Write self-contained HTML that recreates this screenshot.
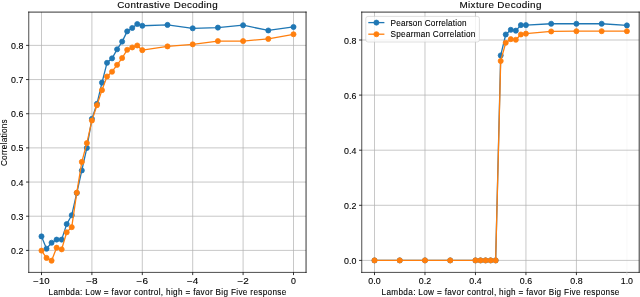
<!DOCTYPE html>
<html><head><meta charset="utf-8"><title>Contrastive vs Mixture Decoding</title>
<style>html,body{margin:0;padding:0;background:#fff;width:640px;height:297px;overflow:hidden}
text{font-family:"Liberation Sans",sans-serif;stroke:#000;stroke-width:0.1px;paint-order:stroke} text.t{stroke-width:0.12px}</style></head>
<body>
<svg width="640" height="297" viewBox="0 0 640 297" style="display:block;will-change:transform">
<rect width="640" height="297" fill="#fff"/>
<g font-family="Liberation Sans, sans-serif" fill="#000">
<line x1="41.50" y1="12.10" x2="41.50" y2="272.40" stroke="#b0b0b0" stroke-width="0.7"/>
<line x1="91.90" y1="12.10" x2="91.90" y2="272.40" stroke="#b0b0b0" stroke-width="0.7"/>
<line x1="142.30" y1="12.10" x2="142.30" y2="272.40" stroke="#b0b0b0" stroke-width="0.7"/>
<line x1="192.70" y1="12.10" x2="192.70" y2="272.40" stroke="#b0b0b0" stroke-width="0.7"/>
<line x1="243.10" y1="12.10" x2="243.10" y2="272.40" stroke="#b0b0b0" stroke-width="0.7"/>
<line x1="293.50" y1="12.10" x2="293.50" y2="272.40" stroke="#b0b0b0" stroke-width="0.7"/>
<line x1="28.75" y1="250.40" x2="306.05" y2="250.40" stroke="#b0b0b0" stroke-width="0.7"/>
<line x1="28.75" y1="216.23" x2="306.05" y2="216.23" stroke="#b0b0b0" stroke-width="0.7"/>
<line x1="28.75" y1="182.06" x2="306.05" y2="182.06" stroke="#b0b0b0" stroke-width="0.7"/>
<line x1="28.75" y1="147.89" x2="306.05" y2="147.89" stroke="#b0b0b0" stroke-width="0.7"/>
<line x1="28.75" y1="113.72" x2="306.05" y2="113.72" stroke="#b0b0b0" stroke-width="0.7"/>
<line x1="28.75" y1="79.55" x2="306.05" y2="79.55" stroke="#b0b0b0" stroke-width="0.7"/>
<line x1="28.75" y1="45.38" x2="306.05" y2="45.38" stroke="#b0b0b0" stroke-width="0.7"/>
<g>
<polyline points="41.50,236.39 46.54,248.69 51.58,242.71 56.62,239.60 61.66,239.60 66.70,224.09 71.74,215.20 76.78,192.99 81.82,170.44 86.86,147.89 91.90,118.85 96.94,103.81 101.98,82.63 107.02,62.81 112.06,58.36 117.10,49.31 122.14,41.62 127.18,31.37 132.22,27.95 137.26,24.02 142.30,25.73 167.50,24.88 192.70,28.30 217.90,27.61 243.10,25.22 268.30,30.48 293.50,26.93" fill="none" stroke="#1f77b4" stroke-width="1.3" stroke-linejoin="round" stroke-linecap="butt"/>
<circle cx="41.50" cy="236.39" r="2.55" fill="#1f77b4" stroke="#1f77b4" stroke-width="0.77"/>
<circle cx="46.54" cy="248.69" r="2.55" fill="#1f77b4" stroke="#1f77b4" stroke-width="0.77"/>
<circle cx="51.58" cy="242.71" r="2.55" fill="#1f77b4" stroke="#1f77b4" stroke-width="0.77"/>
<circle cx="56.62" cy="239.60" r="2.55" fill="#1f77b4" stroke="#1f77b4" stroke-width="0.77"/>
<circle cx="61.66" cy="239.60" r="2.55" fill="#1f77b4" stroke="#1f77b4" stroke-width="0.77"/>
<circle cx="66.70" cy="224.09" r="2.55" fill="#1f77b4" stroke="#1f77b4" stroke-width="0.77"/>
<circle cx="71.74" cy="215.20" r="2.55" fill="#1f77b4" stroke="#1f77b4" stroke-width="0.77"/>
<circle cx="76.78" cy="192.99" r="2.55" fill="#1f77b4" stroke="#1f77b4" stroke-width="0.77"/>
<circle cx="81.82" cy="170.44" r="2.55" fill="#1f77b4" stroke="#1f77b4" stroke-width="0.77"/>
<circle cx="86.86" cy="147.89" r="2.55" fill="#1f77b4" stroke="#1f77b4" stroke-width="0.77"/>
<circle cx="91.90" cy="118.85" r="2.55" fill="#1f77b4" stroke="#1f77b4" stroke-width="0.77"/>
<circle cx="96.94" cy="103.81" r="2.55" fill="#1f77b4" stroke="#1f77b4" stroke-width="0.77"/>
<circle cx="101.98" cy="82.63" r="2.55" fill="#1f77b4" stroke="#1f77b4" stroke-width="0.77"/>
<circle cx="107.02" cy="62.81" r="2.55" fill="#1f77b4" stroke="#1f77b4" stroke-width="0.77"/>
<circle cx="112.06" cy="58.36" r="2.55" fill="#1f77b4" stroke="#1f77b4" stroke-width="0.77"/>
<circle cx="117.10" cy="49.31" r="2.55" fill="#1f77b4" stroke="#1f77b4" stroke-width="0.77"/>
<circle cx="122.14" cy="41.62" r="2.55" fill="#1f77b4" stroke="#1f77b4" stroke-width="0.77"/>
<circle cx="127.18" cy="31.37" r="2.55" fill="#1f77b4" stroke="#1f77b4" stroke-width="0.77"/>
<circle cx="132.22" cy="27.95" r="2.55" fill="#1f77b4" stroke="#1f77b4" stroke-width="0.77"/>
<circle cx="137.26" cy="24.02" r="2.55" fill="#1f77b4" stroke="#1f77b4" stroke-width="0.77"/>
<circle cx="142.30" cy="25.73" r="2.55" fill="#1f77b4" stroke="#1f77b4" stroke-width="0.77"/>
<circle cx="167.50" cy="24.88" r="2.55" fill="#1f77b4" stroke="#1f77b4" stroke-width="0.77"/>
<circle cx="192.70" cy="28.30" r="2.55" fill="#1f77b4" stroke="#1f77b4" stroke-width="0.77"/>
<circle cx="217.90" cy="27.61" r="2.55" fill="#1f77b4" stroke="#1f77b4" stroke-width="0.77"/>
<circle cx="243.10" cy="25.22" r="2.55" fill="#1f77b4" stroke="#1f77b4" stroke-width="0.77"/>
<circle cx="268.30" cy="30.48" r="2.55" fill="#1f77b4" stroke="#1f77b4" stroke-width="0.77"/>
<circle cx="293.50" cy="26.93" r="2.55" fill="#1f77b4" stroke="#1f77b4" stroke-width="0.77"/>
<polyline points="41.50,250.61 46.54,257.92 51.58,260.65 56.62,247.67 61.66,249.37 66.70,232.29 71.74,227.16 76.78,192.65 81.82,161.90 86.86,143.11 91.90,120.55 96.94,105.18 101.98,90.14 107.02,76.47 112.06,71.69 117.10,64.86 122.14,58.02 127.18,49.82 132.22,47.43 137.26,45.48 142.30,50.16 167.50,46.41 192.70,44.35 217.90,41.07 243.10,41.07 268.30,38.89 293.50,34.27" fill="none" stroke="#ff7f0e" stroke-width="1.3" stroke-linejoin="round" stroke-linecap="butt"/>
<circle cx="41.50" cy="250.61" r="2.55" fill="#ff7f0e" stroke="#ff7f0e" stroke-width="0.77"/>
<circle cx="46.54" cy="257.92" r="2.55" fill="#ff7f0e" stroke="#ff7f0e" stroke-width="0.77"/>
<circle cx="51.58" cy="260.65" r="2.55" fill="#ff7f0e" stroke="#ff7f0e" stroke-width="0.77"/>
<circle cx="56.62" cy="247.67" r="2.55" fill="#ff7f0e" stroke="#ff7f0e" stroke-width="0.77"/>
<circle cx="61.66" cy="249.37" r="2.55" fill="#ff7f0e" stroke="#ff7f0e" stroke-width="0.77"/>
<circle cx="66.70" cy="232.29" r="2.55" fill="#ff7f0e" stroke="#ff7f0e" stroke-width="0.77"/>
<circle cx="71.74" cy="227.16" r="2.55" fill="#ff7f0e" stroke="#ff7f0e" stroke-width="0.77"/>
<circle cx="76.78" cy="192.65" r="2.55" fill="#ff7f0e" stroke="#ff7f0e" stroke-width="0.77"/>
<circle cx="81.82" cy="161.90" r="2.55" fill="#ff7f0e" stroke="#ff7f0e" stroke-width="0.77"/>
<circle cx="86.86" cy="143.11" r="2.55" fill="#ff7f0e" stroke="#ff7f0e" stroke-width="0.77"/>
<circle cx="91.90" cy="120.55" r="2.55" fill="#ff7f0e" stroke="#ff7f0e" stroke-width="0.77"/>
<circle cx="96.94" cy="105.18" r="2.55" fill="#ff7f0e" stroke="#ff7f0e" stroke-width="0.77"/>
<circle cx="101.98" cy="90.14" r="2.55" fill="#ff7f0e" stroke="#ff7f0e" stroke-width="0.77"/>
<circle cx="107.02" cy="76.47" r="2.55" fill="#ff7f0e" stroke="#ff7f0e" stroke-width="0.77"/>
<circle cx="112.06" cy="71.69" r="2.55" fill="#ff7f0e" stroke="#ff7f0e" stroke-width="0.77"/>
<circle cx="117.10" cy="64.86" r="2.55" fill="#ff7f0e" stroke="#ff7f0e" stroke-width="0.77"/>
<circle cx="122.14" cy="58.02" r="2.55" fill="#ff7f0e" stroke="#ff7f0e" stroke-width="0.77"/>
<circle cx="127.18" cy="49.82" r="2.55" fill="#ff7f0e" stroke="#ff7f0e" stroke-width="0.77"/>
<circle cx="132.22" cy="47.43" r="2.55" fill="#ff7f0e" stroke="#ff7f0e" stroke-width="0.77"/>
<circle cx="137.26" cy="45.48" r="2.55" fill="#ff7f0e" stroke="#ff7f0e" stroke-width="0.77"/>
<circle cx="142.30" cy="50.16" r="2.55" fill="#ff7f0e" stroke="#ff7f0e" stroke-width="0.77"/>
<circle cx="167.50" cy="46.41" r="2.55" fill="#ff7f0e" stroke="#ff7f0e" stroke-width="0.77"/>
<circle cx="192.70" cy="44.35" r="2.55" fill="#ff7f0e" stroke="#ff7f0e" stroke-width="0.77"/>
<circle cx="217.90" cy="41.07" r="2.55" fill="#ff7f0e" stroke="#ff7f0e" stroke-width="0.77"/>
<circle cx="243.10" cy="41.07" r="2.55" fill="#ff7f0e" stroke="#ff7f0e" stroke-width="0.77"/>
<circle cx="268.30" cy="38.89" r="2.55" fill="#ff7f0e" stroke="#ff7f0e" stroke-width="0.77"/>
<circle cx="293.50" cy="34.27" r="2.55" fill="#ff7f0e" stroke="#ff7f0e" stroke-width="0.77"/>
</g>
<line x1="28.75" y1="12.10" x2="28.75" y2="272.40" stroke="#000" stroke-width="0.7" stroke-linecap="square"/>
<line x1="306.05" y1="12.10" x2="306.05" y2="272.40" stroke="#000" stroke-width="0.8" stroke-linecap="square"/>
<line x1="28.75" y1="12.10" x2="306.05" y2="12.10" stroke="#000" stroke-width="0.8" stroke-linecap="square"/>
<line x1="28.75" y1="272.40" x2="306.05" y2="272.40" stroke="#000" stroke-width="0.7" stroke-linecap="square"/>
<line x1="41.50" y1="272.40" x2="41.50" y2="275.10" stroke="#000" stroke-width="0.8"/>
<line x1="91.90" y1="272.40" x2="91.90" y2="275.10" stroke="#000" stroke-width="0.8"/>
<line x1="142.30" y1="272.40" x2="142.30" y2="275.10" stroke="#000" stroke-width="0.8"/>
<line x1="192.70" y1="272.40" x2="192.70" y2="275.10" stroke="#000" stroke-width="0.8"/>
<line x1="243.10" y1="272.40" x2="243.10" y2="275.10" stroke="#000" stroke-width="0.8"/>
<line x1="293.50" y1="272.40" x2="293.50" y2="275.10" stroke="#000" stroke-width="0.8"/>
<line x1="26.05" y1="250.40" x2="28.75" y2="250.40" stroke="#000" stroke-width="0.8"/>
<line x1="26.05" y1="216.23" x2="28.75" y2="216.23" stroke="#000" stroke-width="0.8"/>
<line x1="26.05" y1="182.06" x2="28.75" y2="182.06" stroke="#000" stroke-width="0.8"/>
<line x1="26.05" y1="147.89" x2="28.75" y2="147.89" stroke="#000" stroke-width="0.8"/>
<line x1="26.05" y1="113.72" x2="28.75" y2="113.72" stroke="#000" stroke-width="0.8"/>
<line x1="26.05" y1="79.55" x2="28.75" y2="79.55" stroke="#000" stroke-width="0.8"/>
<line x1="26.05" y1="45.38" x2="28.75" y2="45.38" stroke="#000" stroke-width="0.8"/>
<text x="41.50" y="284.00" font-size="8.20" text-anchor="middle" textLength="16.33" lengthAdjust="spacingAndGlyphs" >−10</text>
<text x="91.90" y="284.00" font-size="8.20" text-anchor="middle" textLength="11.41" lengthAdjust="spacingAndGlyphs" >−8</text>
<text x="142.30" y="284.00" font-size="8.20" text-anchor="middle" textLength="11.41" lengthAdjust="spacingAndGlyphs" >−6</text>
<text x="192.70" y="284.00" font-size="8.20" text-anchor="middle" textLength="11.41" lengthAdjust="spacingAndGlyphs" >−4</text>
<text x="243.10" y="284.00" font-size="8.20" text-anchor="middle" textLength="11.41" lengthAdjust="spacingAndGlyphs" >−2</text>
<text x="293.50" y="284.00" font-size="8.20" text-anchor="middle" textLength="4.92" lengthAdjust="spacingAndGlyphs" >0</text>
<text x="23.35" y="254.00" font-size="8.20" text-anchor="end" textLength="12.31" lengthAdjust="spacingAndGlyphs" >0.2</text>
<text x="23.35" y="219.83" font-size="8.20" text-anchor="end" textLength="12.31" lengthAdjust="spacingAndGlyphs" >0.3</text>
<text x="23.35" y="185.66" font-size="8.20" text-anchor="end" textLength="12.31" lengthAdjust="spacingAndGlyphs" >0.4</text>
<text x="23.35" y="151.49" font-size="8.20" text-anchor="end" textLength="12.31" lengthAdjust="spacingAndGlyphs" >0.5</text>
<text x="23.35" y="117.32" font-size="8.20" text-anchor="end" textLength="12.31" lengthAdjust="spacingAndGlyphs" >0.6</text>
<text x="23.35" y="83.15" font-size="8.20" text-anchor="end" textLength="12.31" lengthAdjust="spacingAndGlyphs" >0.7</text>
<text x="23.35" y="48.98" font-size="8.20" text-anchor="end" textLength="12.31" lengthAdjust="spacingAndGlyphs" >0.8</text>
<text x="167.40" y="7.50" font-size="9.85" text-anchor="middle" textLength="100.47" lengthAdjust="spacing" class="t">Contrastive Decoding</text>
<text x="167.40" y="295.00" font-size="8.20" text-anchor="middle" textLength="237.79" lengthAdjust="spacing" >Lambda: Low = favor control, high = favor Big Five response</text>
<text x="0.00" y="0.00" font-size="8.20" text-anchor="middle" textLength="46.71" lengthAdjust="spacing" transform="translate(7.1,142.7) rotate(-90)">Correlations</text>
<line x1="374.50" y1="12.10" x2="374.50" y2="272.40" stroke="#b0b0b0" stroke-width="0.7"/>
<line x1="424.98" y1="12.10" x2="424.98" y2="272.40" stroke="#b0b0b0" stroke-width="0.7"/>
<line x1="475.46" y1="12.10" x2="475.46" y2="272.40" stroke="#b0b0b0" stroke-width="0.7"/>
<line x1="525.94" y1="12.10" x2="525.94" y2="272.40" stroke="#b0b0b0" stroke-width="0.7"/>
<line x1="576.42" y1="12.10" x2="576.42" y2="272.40" stroke="#b0b0b0" stroke-width="0.7"/>
<line x1="626.90" y1="12.10" x2="626.90" y2="272.40" stroke="#f6f6f6" stroke-width="0.7"/>
<line x1="361.75" y1="260.40" x2="639.20" y2="260.40" stroke="#b0b0b0" stroke-width="0.7"/>
<line x1="361.75" y1="205.30" x2="639.20" y2="205.30" stroke="#b0b0b0" stroke-width="0.7"/>
<line x1="361.75" y1="150.20" x2="639.20" y2="150.20" stroke="#b0b0b0" stroke-width="0.7"/>
<line x1="361.75" y1="95.10" x2="639.20" y2="95.10" stroke="#b0b0b0" stroke-width="0.7"/>
<line x1="361.75" y1="40.00" x2="639.20" y2="40.00" stroke="#b0b0b0" stroke-width="0.7"/>
<g>
<polyline points="374.50,260.40 399.74,260.40 424.98,260.40 450.22,260.40 475.46,260.40 480.51,260.40 485.56,260.40 490.60,260.40 495.65,260.40 500.70,55.43 505.75,34.49 510.80,29.81 515.84,30.63 520.89,25.12 525.94,25.12 551.18,23.75 576.42,23.75 601.66,23.75 626.90,25.40" fill="none" stroke="#1f77b4" stroke-width="1.3" stroke-linejoin="round" stroke-linecap="butt"/>
<circle cx="374.50" cy="260.40" r="2.55" fill="#1f77b4" stroke="#1f77b4" stroke-width="0.77"/>
<circle cx="399.74" cy="260.40" r="2.55" fill="#1f77b4" stroke="#1f77b4" stroke-width="0.77"/>
<circle cx="424.98" cy="260.40" r="2.55" fill="#1f77b4" stroke="#1f77b4" stroke-width="0.77"/>
<circle cx="450.22" cy="260.40" r="2.55" fill="#1f77b4" stroke="#1f77b4" stroke-width="0.77"/>
<circle cx="475.46" cy="260.40" r="2.55" fill="#1f77b4" stroke="#1f77b4" stroke-width="0.77"/>
<circle cx="480.51" cy="260.40" r="2.55" fill="#1f77b4" stroke="#1f77b4" stroke-width="0.77"/>
<circle cx="485.56" cy="260.40" r="2.55" fill="#1f77b4" stroke="#1f77b4" stroke-width="0.77"/>
<circle cx="490.60" cy="260.40" r="2.55" fill="#1f77b4" stroke="#1f77b4" stroke-width="0.77"/>
<circle cx="495.65" cy="260.40" r="2.55" fill="#1f77b4" stroke="#1f77b4" stroke-width="0.77"/>
<circle cx="500.70" cy="55.43" r="2.55" fill="#1f77b4" stroke="#1f77b4" stroke-width="0.77"/>
<circle cx="505.75" cy="34.49" r="2.55" fill="#1f77b4" stroke="#1f77b4" stroke-width="0.77"/>
<circle cx="510.80" cy="29.81" r="2.55" fill="#1f77b4" stroke="#1f77b4" stroke-width="0.77"/>
<circle cx="515.84" cy="30.63" r="2.55" fill="#1f77b4" stroke="#1f77b4" stroke-width="0.77"/>
<circle cx="520.89" cy="25.12" r="2.55" fill="#1f77b4" stroke="#1f77b4" stroke-width="0.77"/>
<circle cx="525.94" cy="25.12" r="2.55" fill="#1f77b4" stroke="#1f77b4" stroke-width="0.77"/>
<circle cx="551.18" cy="23.75" r="2.55" fill="#1f77b4" stroke="#1f77b4" stroke-width="0.77"/>
<circle cx="576.42" cy="23.75" r="2.55" fill="#1f77b4" stroke="#1f77b4" stroke-width="0.77"/>
<circle cx="601.66" cy="23.75" r="2.55" fill="#1f77b4" stroke="#1f77b4" stroke-width="0.77"/>
<circle cx="626.90" cy="25.40" r="2.55" fill="#1f77b4" stroke="#1f77b4" stroke-width="0.77"/>
<polyline points="374.50,260.40 399.74,260.40 424.98,260.40 450.22,260.40 475.46,260.40 480.51,260.40 485.56,260.40 490.60,260.40 495.65,260.40 500.70,60.94 505.75,42.75 510.80,39.17 515.84,39.72 520.89,34.49 525.94,33.66 551.18,31.46 576.42,31.18 601.66,31.18 626.90,31.18" fill="none" stroke="#ff7f0e" stroke-width="1.3" stroke-linejoin="round" stroke-linecap="butt"/>
<circle cx="374.50" cy="260.40" r="2.55" fill="#ff7f0e" stroke="#ff7f0e" stroke-width="0.77"/>
<circle cx="399.74" cy="260.40" r="2.55" fill="#ff7f0e" stroke="#ff7f0e" stroke-width="0.77"/>
<circle cx="424.98" cy="260.40" r="2.55" fill="#ff7f0e" stroke="#ff7f0e" stroke-width="0.77"/>
<circle cx="450.22" cy="260.40" r="2.55" fill="#ff7f0e" stroke="#ff7f0e" stroke-width="0.77"/>
<circle cx="475.46" cy="260.40" r="2.55" fill="#ff7f0e" stroke="#ff7f0e" stroke-width="0.77"/>
<circle cx="480.51" cy="260.40" r="2.55" fill="#ff7f0e" stroke="#ff7f0e" stroke-width="0.77"/>
<circle cx="485.56" cy="260.40" r="2.55" fill="#ff7f0e" stroke="#ff7f0e" stroke-width="0.77"/>
<circle cx="490.60" cy="260.40" r="2.55" fill="#ff7f0e" stroke="#ff7f0e" stroke-width="0.77"/>
<circle cx="495.65" cy="260.40" r="2.55" fill="#ff7f0e" stroke="#ff7f0e" stroke-width="0.77"/>
<circle cx="500.70" cy="60.94" r="2.55" fill="#ff7f0e" stroke="#ff7f0e" stroke-width="0.77"/>
<circle cx="505.75" cy="42.75" r="2.55" fill="#ff7f0e" stroke="#ff7f0e" stroke-width="0.77"/>
<circle cx="510.80" cy="39.17" r="2.55" fill="#ff7f0e" stroke="#ff7f0e" stroke-width="0.77"/>
<circle cx="515.84" cy="39.72" r="2.55" fill="#ff7f0e" stroke="#ff7f0e" stroke-width="0.77"/>
<circle cx="520.89" cy="34.49" r="2.55" fill="#ff7f0e" stroke="#ff7f0e" stroke-width="0.77"/>
<circle cx="525.94" cy="33.66" r="2.55" fill="#ff7f0e" stroke="#ff7f0e" stroke-width="0.77"/>
<circle cx="551.18" cy="31.46" r="2.55" fill="#ff7f0e" stroke="#ff7f0e" stroke-width="0.77"/>
<circle cx="576.42" cy="31.18" r="2.55" fill="#ff7f0e" stroke="#ff7f0e" stroke-width="0.77"/>
<circle cx="601.66" cy="31.18" r="2.55" fill="#ff7f0e" stroke="#ff7f0e" stroke-width="0.77"/>
<circle cx="626.90" cy="31.18" r="2.55" fill="#ff7f0e" stroke="#ff7f0e" stroke-width="0.77"/>
</g>
<line x1="361.75" y1="12.10" x2="361.75" y2="272.40" stroke="#000" stroke-width="0.7" stroke-linecap="square"/>
<line x1="639.20" y1="12.10" x2="639.20" y2="272.40" stroke="#000" stroke-width="0.8" stroke-linecap="square"/>
<line x1="361.75" y1="12.10" x2="639.20" y2="12.10" stroke="#000" stroke-width="0.8" stroke-linecap="square"/>
<line x1="361.75" y1="272.40" x2="639.20" y2="272.40" stroke="#000" stroke-width="0.7" stroke-linecap="square"/>
<line x1="374.50" y1="272.40" x2="374.50" y2="275.10" stroke="#000" stroke-width="0.8"/>
<line x1="424.98" y1="272.40" x2="424.98" y2="275.10" stroke="#000" stroke-width="0.8"/>
<line x1="475.46" y1="272.40" x2="475.46" y2="275.10" stroke="#000" stroke-width="0.8"/>
<line x1="525.94" y1="272.40" x2="525.94" y2="275.10" stroke="#000" stroke-width="0.8"/>
<line x1="576.42" y1="272.40" x2="576.42" y2="275.10" stroke="#000" stroke-width="0.8"/>
<line x1="626.90" y1="272.40" x2="626.90" y2="275.10" stroke="#dddddd" stroke-width="0.8"/>
<line x1="359.05" y1="260.40" x2="361.75" y2="260.40" stroke="#000" stroke-width="0.8"/>
<line x1="359.05" y1="205.30" x2="361.75" y2="205.30" stroke="#000" stroke-width="0.8"/>
<line x1="359.05" y1="150.20" x2="361.75" y2="150.20" stroke="#000" stroke-width="0.8"/>
<line x1="359.05" y1="95.10" x2="361.75" y2="95.10" stroke="#000" stroke-width="0.8"/>
<line x1="359.05" y1="40.00" x2="361.75" y2="40.00" stroke="#000" stroke-width="0.8"/>
<text x="374.50" y="284.00" font-size="8.20" text-anchor="middle" textLength="12.31" lengthAdjust="spacingAndGlyphs" >0.0</text>
<text x="424.98" y="284.00" font-size="8.20" text-anchor="middle" textLength="12.31" lengthAdjust="spacingAndGlyphs" >0.2</text>
<text x="475.46" y="284.00" font-size="8.20" text-anchor="middle" textLength="12.31" lengthAdjust="spacingAndGlyphs" >0.4</text>
<text x="525.94" y="284.00" font-size="8.20" text-anchor="middle" textLength="12.31" lengthAdjust="spacingAndGlyphs" >0.6</text>
<text x="576.42" y="284.00" font-size="8.20" text-anchor="middle" textLength="12.31" lengthAdjust="spacingAndGlyphs" >0.8</text>
<text x="626.90" y="284.00" font-size="8.20" text-anchor="middle" textLength="12.31" lengthAdjust="spacingAndGlyphs" >1.0</text>
<text x="356.35" y="264.00" font-size="8.20" text-anchor="end" textLength="12.31" lengthAdjust="spacingAndGlyphs" >0.0</text>
<text x="356.35" y="208.90" font-size="8.20" text-anchor="end" textLength="12.31" lengthAdjust="spacingAndGlyphs" >0.2</text>
<text x="356.35" y="153.80" font-size="8.20" text-anchor="end" textLength="12.31" lengthAdjust="spacingAndGlyphs" >0.4</text>
<text x="356.35" y="98.70" font-size="8.20" text-anchor="end" textLength="12.31" lengthAdjust="spacingAndGlyphs" >0.6</text>
<text x="356.35" y="43.60" font-size="8.20" text-anchor="end" textLength="12.31" lengthAdjust="spacingAndGlyphs" >0.8</text>
<text x="500.48" y="7.50" font-size="9.85" text-anchor="middle" textLength="81.92" lengthAdjust="spacing" class="t">Mixture Decoding</text>
<text x="500.48" y="295.00" font-size="8.20" text-anchor="middle" textLength="237.79" lengthAdjust="spacing" >Lambda: Low = favor control, high = favor Big Five response</text>
<rect x="365.8" y="16.4" width="113.60" height="25.60" rx="2.2" ry="2.2" fill="#fff" fill-opacity="0.8" stroke="#cccccc" stroke-opacity="0.8" stroke-width="0.77"/>
<line x1="368.3" y1="22.6" x2="384.4" y2="22.6" stroke="#1f77b4" stroke-width="1.3"/>
<circle cx="376.4" cy="22.6" r="2.55" fill="#1f77b4" stroke="#1f77b4" stroke-width="0.77"/>
<text x="390.60" y="25.70" font-size="8.20" text-anchor="start" textLength="75.89" lengthAdjust="spacing" >Pearson Correlation</text>
<line x1="368.3" y1="34.2" x2="384.4" y2="34.2" stroke="#ff7f0e" stroke-width="1.3"/>
<circle cx="376.4" cy="34.2" r="2.55" fill="#ff7f0e" stroke="#ff7f0e" stroke-width="0.77"/>
<text x="390.60" y="37.30" font-size="8.20" text-anchor="start" textLength="84.71" lengthAdjust="spacing" >Spearman Correlation</text>
</g></svg>
</body></html>
